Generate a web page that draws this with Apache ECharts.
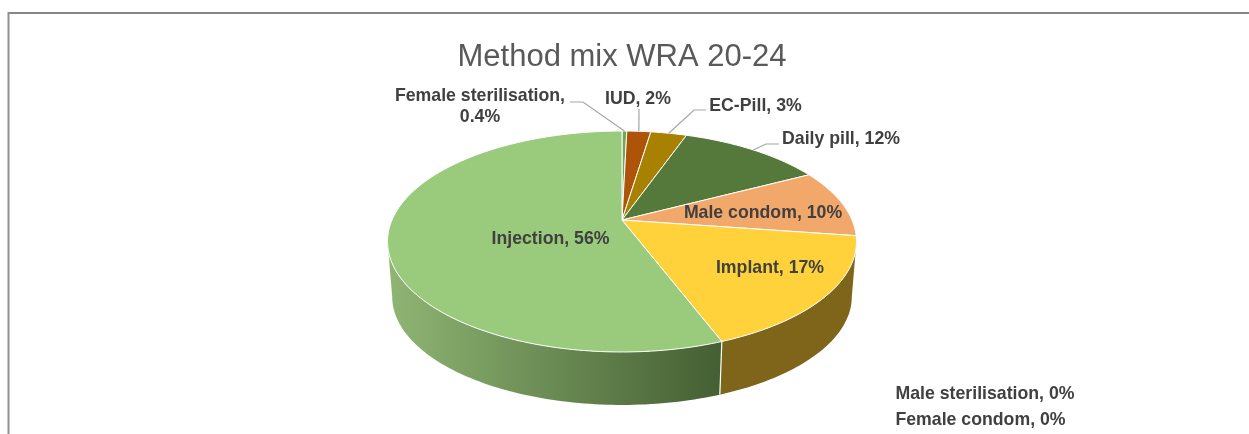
<!DOCTYPE html>
<html><head><meta charset="utf-8">
<style>html,body{margin:0;padding:0;background:#fff}#c{width:1249px;height:434px}</style>
<script src="https://cdn.jsdelivr.net/npm/echarts@6/dist/echarts.min.js"></script>
</head><body><div id="c"></div>
<script>
// Data
var categories = ['Female sterilisation','IUD','EC-Pill','Daily pill','Male condom','Implant','Injection','Male sterilisation','Female condom'];
var values = [0.4,2,3,12,10,17,56,0,0];
var valueLabels = ['0.4%','2%','3%','12%','10%','17%','56%','0%','0%'];
// Styles
var topColors = ['#6FA84F','#AE5408','#A88100','#55793A','#F3A86B','#FFD23C','#9ACA7C','#999','#999'];
var wallColors = ['#4c7336','#6e3505','#6e5400','#36502a','#9c6b43','#7E6519',null,'#777','#777'];
var injectionGradient = ['#8FB573','#445F33'];
var LF = '"Liberation Sans",Arial,sans-serif';
// Pie projection (tilted disc with perspective)
var cx=622, cy=220, A=230, B=106.3, K=0.1946, baseScale=0.98, baseDrop=55.6;
var silR=Math.acos(-K), silL=2*Math.PI-silR; // silhouette angles of the rim
function project(t,base){
  var w=1+K*Math.cos(t), s=base?baseScale:1;
  return [cx+s*A*Math.sin(t)/w, cy-s*B*Math.cos(t)/w+(base?baseDrop:0)];
}
var total=values.reduce(function(a,b){return a+b;},0);
function angles(i,val){
  var c=0; for(var j=0;j<i;j++) c+=values[j];
  return [c/total*2*Math.PI,(c+val)/total*2*Math.PI];
}
function arc(a0,a1,base){
  var pts=[],n=Math.max(2,Math.ceil((a1-a0)/0.02));
  for(var k=0;k<=n;k++) pts.push(project(a0+(a1-a0)*k/n,base));
  return pts;
}
var empty={type:'group',children:[]};
function renderWall(p,api){
  var i=p.dataIndex,v=api.value(0); if(!v) return empty;
  var a=angles(i,v),a0=Math.max(a[0],silR),a1=Math.min(a[1],silL);
  if(a0>=a1) return empty;
  var poly=arc(a0,a1,false).concat(arc(a0,a1,true).reverse());
  var fill=wallColors[i]||new echarts.graphic.LinearGradient(0,0,1,0,[{offset:0,color:injectionGradient[0]},{offset:1,color:injectionGradient[1]}]);
  return {type:'polygon',shape:{points:poly},style:{fill:fill,stroke:null}};
}
function renderSeam(p,api){
  var i=p.dataIndex,v=api.value(0); if(!v) return empty;
  var a=angles(i,v);
  if(a[0]<2||a[0]>4) return empty;
  var r=project(a[0],false),b=project(a[0],true);
  return {type:'line',shape:{x1:r[0],y1:r[1],x2:b[0],y2:b[1]},style:{stroke:'#fff',lineWidth:1.2}};
}
function renderTop(p,api){
  var i=p.dataIndex,v=api.value(0); if(!v) return empty;
  var a=angles(i,v);
  var poly=[[cx,cy]].concat(arc(a[0],a[1],false));
  return {type:'polygon',shape:{points:poly},style:{fill:topColors[i],stroke:'#fff',lineWidth:1,lineJoin:'round'}};
}
// Label layout: text anchor and optional leader elbow
var labelLayout = [
 {x:480,y:107,lines:['Female sterilisation,','0.4%'],elbow:[[583,102],[570,102]]},
 {x:638,y:99,elbow:[[639,109]]},
 {x:755.5,y:106,elbow:[[694,110],[706,110]]},
 {x:841,y:139,elbow:[[766,144],[779,144]]},
 {x:763,y:213},
 {x:770,y:268},
 {x:550.5,y:239},
 {x:985,y:394},
 {x:980.5,y:420}
];
function renderLabel(p,api){
  var i=p.dataIndex,L=labelLayout[i],kids=[],v=api.value(0);
  var txt=L.lines?L.lines.join('\n'):categories[i]+', '+valueLabels[i];
  kids.push({type:'text',style:{text:txt,x:L.x,y:L.y,align:'center',verticalAlign:'middle',fill:'#404040',font:'bold 17.7px '+LF,lineHeight:21}});
  if(L.elbow){
    var a=angles(i,v),e=project((a[0]+a[1])/2,false);
    kids.push({type:'polyline',shape:{points:[[e[0],e[1]]].concat(L.elbow)},style:{stroke:'#A6A6A6',lineWidth:1.2,fill:null}});
  }
  return {type:'group',children:kids};
}
var seriesData=values.map(function(v,i){return {name:categories[i],value:[v]};});
function customSeries(fn,z){return {type:'custom',coordinateSystem:'none',renderItem:fn,data:seriesData,z:z,silent:true,animation:false,encode:{value:0}};}
var chart=echarts.init(document.getElementById('c'),null,{renderer:'canvas'});
chart.setOption({
  animation:false,backgroundColor:'#fff',
  title:{text:'Method mix WRA 20-24',left:617,top:37,textAlign:'center',textStyle:{fontFamily:LF,fontWeight:'normal',fontSize:31,color:'#595959'}},
  graphic:[
    {type:'line',shape:{x1:8.5,y1:13,x2:1249,y2:13},style:{stroke:'#868686',lineWidth:2},silent:true},
    {type:'line',shape:{x1:8.5,y1:12,x2:8.5,y2:434},style:{stroke:'#8f8f8f',lineWidth:2},silent:true}
  ],
  series:[customSeries(renderWall,2),customSeries(renderSeam,3),customSeries(renderTop,4),customSeries(renderLabel,5)]
});
</script></body></html>
